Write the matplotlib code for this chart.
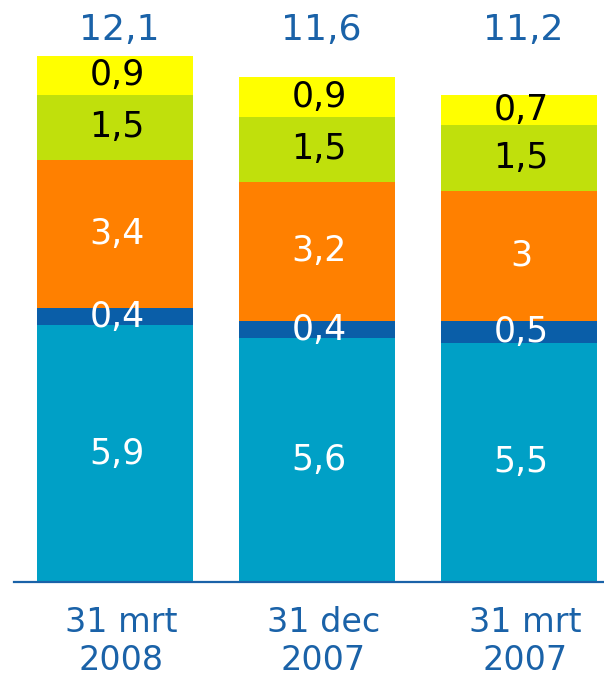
import matplotlib
matplotlib.use("Agg")
import matplotlib.pyplot as plt
import numpy as np

# data
categories = ["31 mrt\n2008", "31 dec\n2007", "31 mrt\n2007"]
totals = ["12,1", "11,6", "11,2"]
light_blue = [5.9, 5.6, 5.5]
dark_blue = [0.4, 0.4, 0.5]
orange = [3.4, 3.2, 3.0]
green = [1.5, 1.5, 1.5]
yellow = [0.9, 0.9, 0.7]

series = [light_blue, dark_blue, orange, green, yellow]
colors = ["#00A0C6", "#0A5EA8", "#FF8000", "#C0E00C", "#FFFF00"]
text_colors = ["white", "white", "white", "black", "black"]
blue_text = "#1A62A8"

plt.rcParams['font.family'] = ['DejaVu Sans']

fig = plt.figure(figsize=(6.04, 6.75), dpi=100)
ax = fig.add_axes([14 / 604, 93 / 675, 590 / 604, 582 / 675])

x = np.arange(len(categories))
bottom = np.zeros(len(categories))
for vals, col, tcol in zip(series, colors, text_colors):
    vals = np.array(vals)
    ax.bar(x, vals, width=0.772, bottom=bottom, color=col, zorder=1)
    for xi, b, v in zip(x, bottom, vals):
        lab = ("%g" % v).replace(".", ",")
        ax.text(xi + 0.01, b + v / 2, lab, ha="center", va="center",
                color=tcol, fontsize=25)
    bottom += vals

# totals above bars
for xi, t in zip(x, totals):
    ax.text(xi + 0.02, 12.69, t, ha="center", va="center",
            color=blue_text, fontsize=26)

ax.set_xlim(-0.5, 2.42)
ax.set_ylim(0, 13.38)
ax.set_xticks(x + 0.03)
ax.set_xticklabels(categories, color=blue_text, fontsize=24, linespacing=1.2)
ax.tick_params(axis="x", length=0, pad=17)
ax.set_yticks([])
for s in ["top", "right", "left"]:
    ax.spines[s].set_visible(False)
ax.spines["bottom"].set_color("#1A62A8")
ax.spines["bottom"].set_linewidth(1.6)

plt.savefig("out.png", dpi=100)
